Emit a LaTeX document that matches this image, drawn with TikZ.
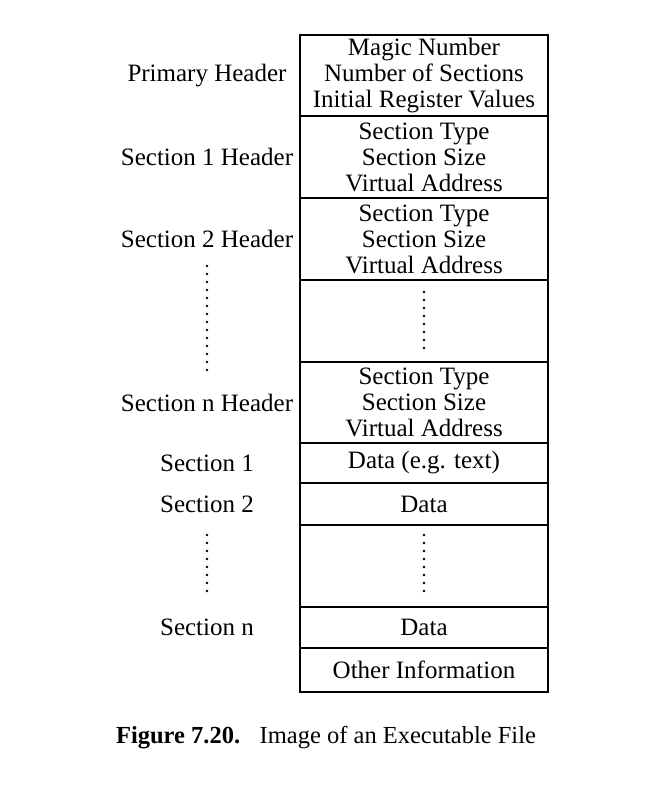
\documentclass[tikz,border=0pt]{standalone}
\usepackage{fontspec}
\setmainfont{Liberation Serif}
\usetikzlibrary{positioning}
\begin{document}
\begin{tikzpicture}[x=1pt,y=-1pt,
    cell/.style={draw,line width=1.2pt,minimum width=248pt,inner sep=0pt,outer sep=0pt,
      align=center,font=\fontsize{25}{26}\selectfont},
    lbl/.style={font=\fontsize{25}{26}\selectfont},
    dots/.style={line width=2.6pt,line cap=round,dash pattern=on 0pt off 8pt}]
            \useasboundingbox (0,0) rectangle (656,807);

            \node[cell,minimum height=81pt] (hdr) at (424,75.5) {Magic Number\\Number of Sections\\Initial Register Values};
            \node[cell,minimum height=82pt,below=0pt of hdr] (sechdra) {Section Type\\Section Size\\Virtual Address};
            \node[cell,minimum height=82pt,below=0pt of sechdra] (sechdrb) {Section Type\\Section Size\\Virtual Address};
            \node[cell,minimum height=82pt,below=0pt of sechdrb] (gapa) {};
            \node[cell,minimum height=81pt,below=0pt of gapa] (sechdrn) {Section Type\\Section Size\\Virtual Address};
            \node[cell,minimum height=40pt,below=0pt of sechdrn] (dataa) {Data (e.g. text)};
            \node[cell,minimum height=42pt,below=0pt of dataa] (datab) {Data};
            \node[cell,minimum height=82pt,below=0pt of datab] (gapb) {};
            \node[cell,minimum height=41pt,below=0pt of gapb] (datan) {Data};
            \node[cell,minimum height=44pt,below=0pt of datan] (other) {Other Information};

            \node[lbl] (lhdr) at ([xshift=-217pt]hdr.center) {Primary Header};
            \node[lbl] (lsechdra) at ([xshift=-217pt]sechdra.center) {Section 1 Header};
            \node[lbl] (lsechdrb) at ([xshift=-217pt]sechdrb.center) {Section 2 Header};
            \node[lbl] (lsechdrn) at ([xshift=-217pt]sechdrn.center) {Section n Header};
            \node[lbl] (ldataa) at ([xshift=-217pt]dataa.center) {Section 1};
            \node[lbl] (ldatab) at ([xshift=-217pt]datab.center) {Section 2};
            \node[lbl] (ldatan) at ([xshift=-217pt]datan.center) {Section n};

            \draw[dots] ([yshift=-12pt]gapa.north) -- ([yshift=14pt]gapa.south);
            \draw[dots] ([yshift=-10pt]gapb.north) -- ([yshift=16pt]gapb.south);
            \draw[dots] ([yshift=-27pt]lsechdrb.center) -- ([yshift=25pt]lsechdrn.center);
            \draw[dots] ([yshift=-31pt]ldatab.center) -- ([yshift=31pt]ldatan.center);

            \node[font=\fontsize{24.5}{26}\selectfont] (caption) at (326,738) {\textbf{Figure 7.20.}\hspace{0.8em}Image of an Executable File};
        \end{tikzpicture}
\end{document}
